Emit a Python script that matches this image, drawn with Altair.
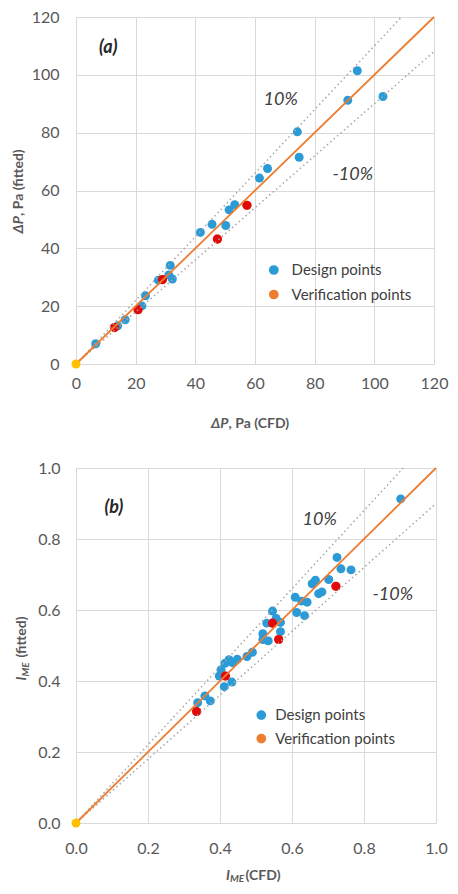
import altair as alt
import pandas as pd

# ---------------- data: panel (a) ΔP ----------------
a_design_x = [6.6, 14.0, 16.5, 22.1, 23.3, 27.6, 31.1, 31.6, 32.3, 41.7, 45.6, 50.2,
              51.3, 53.2, 61.5, 64.2, 74.2, 74.8, 91.1, 94.3, 102.9]
a_design_y = [7.0, 13.2, 15.3, 20.1, 23.6, 29.0, 30.8, 34.1, 29.4, 45.5, 48.3, 47.9,
              53.3, 55.1, 64.3, 67.6, 80.3, 71.5, 91.2, 101.4, 92.5]
a_verif_x = [12.9, 20.8, 29.0, 47.4, 57.3]
a_verif_y = [12.6, 18.8, 29.2, 43.2, 54.9]
a_ticks = [0, 20, 40, 60, 80, 100, 120]
a_lines_x = {"upper": [0, 109.1], "equal": [0, 120], "lower": [0, 120]}
a_lines_y = {"upper": [0, 120], "equal": [0, 120], "lower": [0, 108]}

# ---------------- data: panel (b) I_ME ----------------
b_design_x = [0.338, 0.358, 0.373, 0.398, 0.403, 0.414, 0.425, 0.434, 0.448, 0.412, 0.433,
              0.475, 0.490, 0.519, 0.534, 0.519, 0.568, 0.530, 0.556, 0.568, 0.546, 0.609,
              0.627, 0.642, 0.613, 0.635, 0.656, 0.665, 0.674, 0.683, 0.702, 0.725, 0.736,
              0.764, 0.902]
b_design_y = [0.339, 0.358, 0.344, 0.414, 0.432, 0.450, 0.460, 0.452, 0.461, 0.384, 0.397,
              0.469, 0.481, 0.517, 0.513, 0.533, 0.539, 0.563, 0.576, 0.565, 0.597, 0.636,
              0.625, 0.622, 0.593, 0.584, 0.674, 0.684, 0.646, 0.651, 0.686, 0.748, 0.716,
              0.713, 0.913]
b_verif_x = [0.335, 0.415, 0.546, 0.563, 0.722]
b_verif_y = [0.314, 0.414, 0.563, 0.517, 0.667]
b_ticks = [0.0, 0.2, 0.4, 0.6, 0.8, 1.0]
b_lines_x = {"upper": [0, 0.909], "equal": [0, 1.0], "lower": [0, 1.0]}
b_lines_y = {"upper": [0, 1.0], "equal": [0, 1.0], "lower": [0, 0.9]}

series_names = ["Design points", "Verification points"]

BLUE = "#2B9BD8"
ORANGE = "#ED7D31"
RED = "#E10A0A"
GOLD = "#FFC000"
GRID = "#D9D9D9"
TICKC = "#595959"
FONT = "Lato"


def panel(dx, dy, vx, vy, ticks, lx, ly, fmt, w, h, lpad, annots, legend_pos, titles):
    pts = pd.DataFrame({
        "x": dx + vx,
        "y": dy + vy,
        "s": [series_names[0]] * len(dx) + [series_names[1]] * len(vx),
    })
    ver = pd.DataFrame({"x": vx, "y": vy})
    orig = pd.DataFrame({"x": [0], "y": [0]})
    lines = pd.DataFrame({
        "x": lx["upper"] + lx["equal"] + lx["lower"],
        "y": ly["upper"] + ly["equal"] + ly["lower"],
        "k": ["upper"] * 2 + ["equal"] * 2 + ["lower"] * 2,
    })
    dom = [ticks[0], ticks[-1]]
    X = alt.X("x:Q", scale=alt.Scale(domain=dom, nice=False, zero=False),
              axis=alt.Axis(values=ticks, format=fmt, title=None, grid=True, gridColor=GRID,
                            domain=False, ticks=False, labelFontSize=16, labelColor=TICKC,
                            labelPadding=lpad[0], labelFont=FONT, labelFlush=False))
    Y = alt.Y("y:Q", scale=alt.Scale(domain=dom, nice=False, zero=False),
              axis=alt.Axis(values=ticks, format=fmt, title=None, grid=True, gridColor=GRID,
                            domain=False, ticks=False, labelFontSize=16, labelColor=TICKC,
                            labelPadding=lpad[1], labelFont=FONT, labelFlush=False))

    lgx, lgy, loff, rpad = legend_pos
    base = alt.Chart(pts).mark_circle(size=80, opacity=1).encode(
        x=X, y=Y,
        color=alt.Color("s:N", scale=alt.Scale(domain=series_names, range=[BLUE, ORANGE]),
                        legend=alt.Legend(orient="none", legendX=lgx, legendY=lgy, title=None,
                                          labelFontSize=15, labelColor="#404040", labelFont=FONT,
                                          symbolType="circle", symbolSize=95,
                                          symbolStrokeWidth=0, symbolOpacity=1,
                                          rowPadding=rpad, labelOffset=loff, padding=0)))
    red = alt.Chart(ver).mark_circle(size=84, opacity=1, color=RED).encode(x=X, y=Y)
    dotted = alt.Chart(lines[lines.k != "equal"]).mark_line(
        color="#A6A6A6", strokeWidth=1.5, strokeDash=[1.5, 3]).encode(x=X, y=Y, detail="k:N")
    eq = alt.Chart(lines[lines.k == "equal"]).mark_line(
        color=ORANGE, strokeWidth=1.8).encode(x=X, y=Y)
    o = alt.Chart(orig).mark_circle(size=80, opacity=1, color=GOLD).encode(x=X, y=Y)

    lab, p10, m10 = annots
    t_lab = alt.Chart(pd.DataFrame({"x": [lab[0]], "y": [lab[1]], "t": [lab[2]]})).mark_text(
        font=FONT, fontSize=18, fontWeight="bold", fontStyle="italic", color="#262626"
    ).encode(x=X, y=Y, text="t:N")
    t_pct = alt.Chart(pd.DataFrame({"x": [p10[0], m10[0]], "y": [p10[1], m10[1]],
                                    "t": [p10[2], m10[2]]})).mark_text(
        font=FONT, fontSize=18, fontStyle="italic", color="#404040"
    ).encode(x=X, y=Y, text="t:N")

    layers = [base, red, dotted, eq, o, t_lab, t_pct]
    for (txt, px, py, ang, al, fs, fst) in titles:
        kw = dict(font=FONT, fontSize=fs, fontWeight="bold", color=TICKC, align=al,
                  baseline="alphabetic", fontStyle=fst)
        if ang:
            kw["angle"] = ang
        layers.append(alt.Chart(pd.DataFrame({"t": [txt]})).mark_text(**kw).encode(
            x=alt.value(px), y=alt.value(py), text="t:N"))
    return alt.layer(*layers).properties(width=w, height=h)


top = panel(
    a_design_x, a_design_y, a_verif_x, a_verif_y, a_ticks, a_lines_x, a_lines_y, "d",
    358, 347, (11, 17),
    ((10.8, 109.4, "(a)"), (68.6, 91.3, "10%"), (92.8, 65.3, "-10%")),
    (190.3, 245.5, 10.3, 8.5),
    [
        ("ΔP", -53, 199, 270, "right", 14, "italic"),
        (", Pa (fitted)", -53, 199, 270, "left", 14, "normal"),
        ("ΔP", 152.5, 411, 0, "right", 14, "italic"),
        (", Pa (CFD)", 152.5, 411, 0, "left", 14, "normal"),
    ],
)

bottom = panel(
    b_design_x, b_design_y, b_verif_x, b_verif_y, b_ticks, b_lines_x, b_lines_y, ".1f",
    360, 355, (17, 16),
    ((0.105, 0.887, "(b)"), (0.677, 0.854, "10%"), (0.880, 0.641, "-10%")),
    (177.8, 239.6, 6.4, 7.5),
    [
        ("I", -50, 208.5, 270, "right", 14, "italic"),
        ("ME", -47, 208.5, 270, "left", 10, "italic"),
        ("(fitted)", -50, 189.5, 270, "left", 14, "normal"),
        ("I", 154, 412, 0, "right", 14, "italic"),
        ("ME", 154, 414, 0, "left", 10, "italic"),
        ("(CFD)", 169.5, 412, 0, "left", 14, "normal"),
    ],
)

chart = alt.vconcat(top, bottom, spacing=27).resolve_scale(color="independent").properties(
    padding={"left": 3, "top": 0, "right": 0, "bottom": 0}
).configure_view(stroke=GRID).configure(font=FONT)

chart.save("out.html", embed_options={"renderer": "svg", "actions": False})
